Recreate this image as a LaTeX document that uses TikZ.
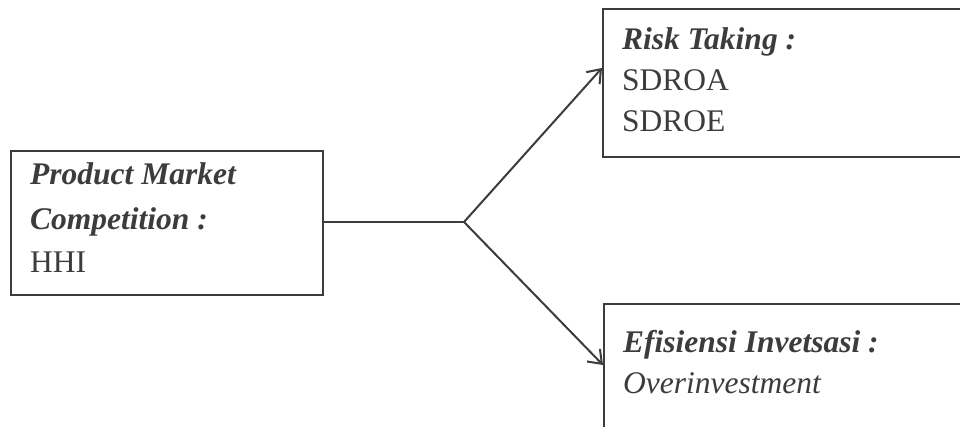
\documentclass[tikz,border=0pt]{standalone}
\usepackage{fontspec}
\setmainfont{Liberation Serif}
\usetikzlibrary{arrows.meta}
\definecolor{ink}{HTML}{3C3C3C}
\newcommand{\bodysize}{\fontsize{31.5}{38}\selectfont}
\tikzset{
  boxnode/.style={draw=ink, line width=2pt, rectangle, inner sep=0pt, anchor=north west},
  txt/.style={anchor=base west, inner sep=0pt, text=ink, font=\bodysize},
  head/.style={txt, font=\bodysize\bfseries\itshape},
  conn/.style={draw=ink, line width=2pt},
  arr/.style={conn, -{Straight Barb[length=12pt, width=18pt, line width=2pt]}}
}
\begin{document}
\begin{tikzpicture}[x=1pt, y=-1pt]
\clip (0,0) rectangle (960,427);
\fill[white] (0,0) rectangle (960,427);
% boxes
\node[boxnode, minimum width=312pt, minimum height=144pt] (pmc) at (10,150) {};
\node[boxnode, minimum width=400pt, minimum height=148pt] (rt) at (602,8) {};
\node[boxnode, minimum width=400pt, minimum height=160pt] (ei) at (603,303) {};
% texts
\node[head] (t1) at (30,185) {Product Market};
\node[head] (t2) at (30,230) {Competition :};
\node[txt] (t3) at (30,273) {HHI};
\node[head] (t4) at (622,50) {Risk Taking :};
\node[txt] (t5) at (622,91) {SDROA};
\node[txt] (t6) at (622,132) {SDROE};
\node[head] (t7) at (623,352) {Efisiensi Invetsasi :};
\node[txt, font=\bodysize\itshape] (t8) at (623,393) {Overinvestment};
% connectors
\coordinate (br) at (464,222);
\draw[conn] (pmc.east |- br) -- (br);
\draw[arr] (br) -- ([yshift=15pt]rt.west);
\draw[arr] (br) -- ([yshift=19pt]ei.west);
\end{tikzpicture}
\end{document}
